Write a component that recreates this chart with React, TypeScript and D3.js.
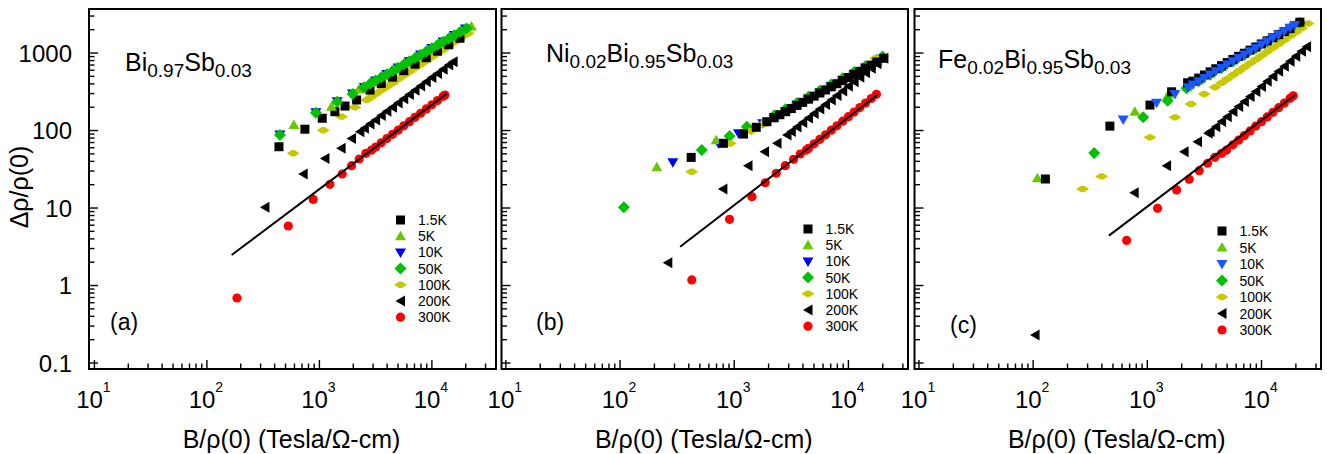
import * as d3 from 'd3';

type Pt = [number, number];

const temps = ['1.5K', '5K', '10K', '50K', '100K', '200K', '300K'];

// ---- (a) Bi0.97Sb0.03 ----
const a_1_5K: Pt[] = [[437, 61.8], [743, 104], [1060, 144], [1373, 175], [1690, 207], [2143, 248], [2818, 333], [3548, 404], [4467, 489], [5623, 593], [7079, 719], [8913, 871], [11220, 1057], [14130, 1279], [17780, 1552]];
const a_5K: Pt[] = [[593, 118], [1282, 203], [2239, 338], [2818, 409], [3548, 497], [4467, 601], [5623, 729], [7079, 885], [8913, 1072], [11220, 1300], [14130, 1574], [17780, 1910], [22500, 2200]];
const a_10K: Pt[] = [[446, 89], [931, 172], [1440, 238], [1970, 300], [2512, 365], [3162, 443], [3981, 536], [5012, 651], [6310, 789], [7943, 955], [10000, 1160], [12590, 1407], [15850, 1703], [19950, 2067]];
const a_50K: Pt[] = [[446, 87.5], [931, 170], [1440, 235], [1970, 296], [2490, 361], [2818, 400], [3162, 441], [3548, 485], [3981, 533], [4467, 588], [5012, 647], [5623, 713], [6310, 785], [7079, 865], [7943, 951], [8913, 1047], [10000, 1153], [11220, 1271], [12590, 1400], [14130, 1538], [15850, 1694], [17780, 1866], [20300, 2080]];
const a_100K: Pt[] = [[585, 50.8], [1082, 101], [1575, 151], [2070, 199], [2630, 248], [2818, 265], [3162, 295], [3548, 330], [3981, 368], [4467, 411], [5012, 458], [5623, 512], [6310, 571], [7079, 638], [7943, 711], [8913, 794], [10000, 887], [11220, 990], [12590, 1104], [14130, 1233], [15850, 1377], [17780, 1538], [19950, 1714], [21000, 1800]];
const a_200K: Pt[] = [[328, 10.2], [718, 27.5], [1120, 43.7], [1560, 59], [1930, 79], [2290, 96.6], [2512, 107], [2818, 121], [3162, 137], [3548, 156], [3981, 177], [4467, 200], [5012, 227], [5623, 257], [6310, 292], [7079, 330], [7943, 375], [8913, 425], [10000, 482], [11220, 546], [12590, 619], [14130, 701], [15450, 773]];
const a_300K: Pt[] = [[185, 0.69], [529, 5.86], [881, 12.9], [1240, 20.2], [1595, 27.5], [1932, 35.2], [2260, 42.9], [2590, 50.8], [2910, 56], [3162, 61.2], [3548, 69.5], [3981, 78.7], [4467, 89.3], [5012, 101], [5623, 115], [6310, 130], [7079, 148], [7943, 167], [8913, 190], [10000, 215], [11220, 244], [12590, 276], [13060, 287]];
const a_fit: Pt[] = [[166, 2.48], [13600, 302]];

// ---- (b) Ni0.02Bi0.95Sb0.03 ----
const b_1_5K: Pt[] = [[420, 45], [805, 68.4], [1208, 90], [1560, 110], [1935, 130], [2239, 146], [2512, 160], [2818, 175], [3162, 192], [3548, 211], [3981, 231], [4467, 254], [5012, 278], [5623, 305], [6310, 334], [7079, 366], [7943, 402], [8913, 441], [10000, 483], [11220, 530], [12590, 581], [14130, 637], [15850, 698], [17780, 766], [20400, 855]];
const b_5K: Pt[] = [[210, 33.5], [695, 75], [1778, 127], [2239, 153], [2818, 184], [3548, 221], [4467, 265], [5623, 319], [7079, 384], [8913, 461], [11220, 555], [14130, 667], [17780, 802], [19050, 847]];
const b_10K: Pt[] = [[290, 38.9], [728, 68.4], [1090, 92], [1413, 103], [1778, 124], [2239, 149], [2818, 179], [3548, 216], [4467, 259], [5623, 312], [7079, 375], [8913, 451], [11220, 542], [14130, 652], [17780, 783]];
const b_50K: Pt[] = [[108, 10.2], [520, 56], [910, 85], [1290, 112], [2239, 156], [2818, 188], [3548, 226], [4467, 272], [5623, 327], [7079, 393], [8913, 472], [11220, 568], [14130, 682], [17780, 820], [19950, 899]];
const b_100K: Pt[] = [[425, 29.4], [922, 68], [1413, 98.6], [1778, 119], [2239, 143], [2818, 171], [3548, 206], [4467, 248], [5623, 298], [7079, 358], [8913, 431], [11220, 518], [14130, 622], [17300, 860]];
const b_200K: Pt[] = [[262, 1.97], [796, 17.6], [1320, 35.2], [1845, 53.2], [2370, 68.4], [2900, 87.5], [3162, 96.9], [3548, 111], [3981, 127], [4467, 145], [5012, 166], [5623, 190], [6310, 217], [7079, 248], [7943, 284], [8913, 324], [10000, 372], [11220, 425], [12590, 486], [14130, 556], [15850, 635], [17780, 728], [20400, 855]];
const b_300K: Pt[] = [[425, 1.18], [910, 7.14], [1430, 14], [1870, 21.2], [2335, 28.1], [2800, 35.2], [3310, 42.5], [3790, 49.8], [4280, 56], [4467, 58.8], [5012, 67.3], [5623, 76.9], [6310, 88.1], [7079, 101], [7943, 115], [8913, 132], [10000, 151], [11220, 173], [12590, 198], [14130, 226], [15850, 259], [17600, 293]];
const b_fit: Pt[] = [[336, 3.17], [17900, 287]];

// ---- (c) Fe0.02Bi0.95Sb0.03 ----
const c_1_5K: Pt[] = [[128, 23.7], [470, 114], [1055, 213], [1633, 316], [2254, 414], [2512, 434], [2818, 475], [3162, 521], [3548, 572], [3981, 627], [4467, 687], [5012, 754], [5623, 827], [6310, 906], [7079, 994], [7943, 1090], [8913, 1195], [10000, 1310], [11220, 1436], [12590, 1575], [14130, 1727], [15850, 1893], [17780, 2076], [21700, 2500]];
const c_5K: Pt[] = [[109, 24.2], [778, 175], [1524, 290], [2239, 363], [2818, 443], [3548, 540], [4467, 658], [5623, 802], [7079, 977], [8913, 1191], [11220, 1455], [14130, 1774], [17780, 2163], [19950, 2388]];
const c_10K: Pt[] = [[615, 139], [1205, 229], [1745, 296], [2280, 361], [2512, 392], [2818, 433], [3162, 478], [3548, 527], [3981, 582], [4467, 643], [5012, 710], [5623, 783], [6310, 865], [7079, 955], [7943, 1054], [8913, 1164], [10000, 1288], [11220, 1422], [12590, 1570], [14130, 1734], [15850, 1914], [17780, 2113], [19600, 2300]];
const c_50K: Pt[] = [[343, 51.3], [920, 148], [1506, 243], [2210, 350], [2818, 431], [3548, 525], [4467, 640], [5623, 778], [7079, 946], [8913, 1153], [11220, 1403], [14130, 1710], [17780, 2080], [21700, 2460]];
const c_100K: Pt[] = [[271, 17.6], [398, 25.6], [1055, 81.7], [1745, 148], [2410, 220], [3150, 296], [3910, 361], [4467, 412], [5012, 463], [5623, 520], [6310, 583], [7079, 656], [7943, 736], [8913, 826], [10000, 927], [11220, 1042], [12590, 1169], [14130, 1312], [15850, 1476], [17780, 1656], [19950, 1858], [22390, 2089], [25600, 2400]];
const c_200K: Pt[] = [[104, 0.23], [767, 15.8], [1475, 35.2], [2100, 53.2], [2750, 71.8], [3410, 92], [3548, 96.8], [3981, 112], [4467, 131], [5012, 151], [5623, 176], [6310, 204], [7079, 237], [7943, 275], [8913, 319], [10000, 371], [11220, 431], [12590, 500], [14130, 581], [15850, 673], [17780, 782], [19950, 908], [22390, 1054], [24800, 1205]];
const c_300K: Pt[] = [[659, 3.82], [1230, 9.9], [1806, 17.1], [2330, 23.5], [2850, 30.3], [3370, 37.8], [3910, 45.1], [4480, 50.8], [4950, 56], [5623, 65.3], [6310, 75], [7079, 86.1], [7943, 98.9], [8913, 114], [10000, 130], [11220, 150], [12590, 172], [14130, 197], [15850, 226], [17780, 260], [18960, 281]];
const c_fit: Pt[] = [[461, 4.4], [19600, 287]];

const xMajor = [10, 100, 1000, 10000];
const yMajor = [0.1, 1, 10, 100, 1000];
const yLabels = ['0.1', '1', '10', '100', '1000'];

const shapes: Record<string, string> = {
  '1.5K': 'square', '5K': 'up', '10K': 'down', '50K': 'diamond',
  '100K': 'flat', '200K': 'left', '300K': 'circle',
};
const colors: Record<string, string> = {
  '1.5K': '#000000', '5K': '#66c800', '10K': '#0000ff', '50K': '#00c000',
  '100K': '#c8c800', '200K': '#000000', '300K': '#ff0000',
};

const FONT = '"Liberation Sans", Arial, Helvetica, sans-serif';

const panels = [
  {
    left: 89, right: 496, xMin: 8.95, xMax: 37150,
    series: { '1.5K': a_1_5K, '5K': a_5K, '10K': a_10K, '50K': a_50K, '100K': a_100K, '200K': a_200K, '300K': a_300K } as Record<string, Pt[]>,
    fit: a_fit,
    order: ['100K', '1.5K', '10K', '5K', '50K', '200K', '300K'],
    title: [['Bi', 0], ['0.97', 1], ['Sb', 0], ['0.03', 1]] as [string, number][],
    titleX: 125, titleY: 71,
    tag: '(a)', tagX: 110, tagY: 330,
    legX: 400.5, legY: 220, legStep: 16.2,
    blue: '#0000ff', yLabels: true,
  },
  {
    left: 501.5, right: 908, xMin: 9.16, xMax: 33270,
    series: { '1.5K': b_1_5K, '5K': b_5K, '10K': b_10K, '50K': b_50K, '100K': b_100K, '200K': b_200K, '300K': b_300K } as Record<string, Pt[]>,
    fit: b_fit,
    order: ['10K', '5K', '50K', '100K', '1.5K', '200K', '300K'],
    title: [['Ni', 0], ['0.02', 1], ['Bi', 0], ['0.95', 1], ['Sb', 0], ['0.03', 1]] as [string, number][],
    titleX: 546, titleY: 62,
    tag: '(b)', tagX: 536, tagY: 330,
    legX: 808, legY: 229, legStep: 16.2,
    blue: '#0000ff', yLabels: false,
  },
  {
    left: 914.5, right: 1321, xMin: 9.14, xMax: 33200,
    series: { '1.5K': c_1_5K, '5K': c_5K, '10K': c_10K, '50K': c_50K, '100K': c_100K, '200K': c_200K, '300K': c_300K } as Record<string, Pt[]>,
    fit: c_fit,
    order: ['100K', '5K', '50K', '1.5K', '10K', '200K', '300K'],
    title: [['Fe', 0], ['0.02', 1], ['Bi', 0], ['0.95', 1], ['Sb', 0], ['0.03', 1]] as [string, number][],
    titleX: 938, titleY: 68,
    tag: '(c)', tagX: 950, tagY: 333,
    legX: 1222, legY: 231, legStep: 16.5,
    blue: '#1a56ff', yLabels: false,
  },
];

const yTop = 9;
const yBottom = 369;
const y = d3.scaleLog().domain([0.0837, 3700]).range([yBottom, yTop]);

function Marker({ shape, cx, cy, color }: { shape: string; cx: number; cy: number; color: string }) {
  const t = `translate(${cx},${cy})`;
  switch (shape) {
    case 'square':
      return <rect x={cx - 4.5} y={cy - 4.5} width={9} height={9} fill={color} />;
    case 'up':
      return <path transform={t} d="M0,-5.5L5.5,4L-5.5,4Z" fill={color} />;
    case 'down':
      return <path transform={t} d="M0,5.5L5.5,-4L-5.5,-4Z" fill={color} />;
    case 'diamond':
      return <path transform={t} d="M0,-6L6,0L0,6L-6,0Z" fill={color} />;
    case 'flat':
      return <path transform={t} d="M-6.5,0L-1.5,-3.2L1.5,-3.2L6.5,0L1.5,3.2L-1.5,3.2Z" fill={color} />;
    case 'left':
      return <path transform={t} d="M-5,0L4.5,-5.5L4.5,5.5Z" fill={color} />;
    default:
      return <circle cx={cx} cy={cy} r={4.6} fill={color} />;
  }
}

function Panel({ p }: { p: (typeof panels)[number] }) {
  const x = d3.scaleLog().domain([p.xMin, p.xMax]).range([p.left, p.right]);
  const xMinor: number[] = [];
  xMajor.forEach((d) => d3.range(2, 10).forEach((m) => { if (d * m <= p.xMax) xMinor.push(d * m); }));
  const yMinor: number[] = [];
  yMajor.forEach((d) => d3.range(2, 10).forEach((m) => { if (d * m <= 3700) yMinor.push(d * m); }));
  const colorOf = (t: string) => (t === '10K' ? p.blue : colors[t]);
  const line = d3.line<Pt>().x((d) => x(d[0])).y((d) => y(d[1]));

  return (
    <g>
      {p.order.map((t) => (
        <g key={t}>
          {p.series[t].map((d, i) => (
            <Marker key={i} shape={shapes[t]} cx={x(d[0])} cy={y(d[1])} color={colorOf(t)} />
          ))}
        </g>
      ))}
      <path d={line(p.fit) ?? ''} stroke="#000" strokeWidth={2} fill="none" />

      {/* frame */}
      <rect x={p.left} y={yTop} width={p.right - p.left} height={yBottom - yTop} fill="none" stroke="#000" strokeWidth={2} />

      {/* x ticks */}
      {xMajor.map((d) => (
        <line key={'xM' + d} x1={x(d)} x2={x(d)} y1={yBottom} y2={yBottom - 9} stroke="#000" strokeWidth={1.4} />
      ))}
      {xMinor.map((d) => (
        <line key={'xm' + d} x1={x(d)} x2={x(d)} y1={yBottom} y2={yBottom - 5.5} stroke="#000" strokeWidth={1.4} />
      ))}
      {/* y ticks */}
      {yMajor.map((d) => (
        <line key={'yM' + d} x1={p.left} x2={p.left + 9} y1={y(d)} y2={y(d)} stroke="#000" strokeWidth={1.4} />
      ))}
      {yMinor.map((d) => (
        <line key={'ym' + d} x1={p.left} x2={p.left + 5.5} y1={y(d)} y2={y(d)} stroke="#000" strokeWidth={1.4} />
      ))}

      {xMajor.map((d) => (
        <text key={'xl' + d} x={x(d) - 1} y={408} textAnchor="middle" fontSize={24} fontFamily={FONT}>
          10<tspan fontSize={14} dy={-16}>{Math.round(Math.log10(d))}</tspan>
        </text>
      ))}
      {p.yLabels &&
        yMajor.map((d, i) => (
          <text key={'yl' + d} x={p.left - 17} y={y(d) + 8.5} textAnchor="end" fontSize={24} fontFamily={FONT}>
            {yLabels[i]}
          </text>
        ))}

      <text x={(p.left + p.right) / 2 - 1} y={448} textAnchor="middle" fontSize={25} fontFamily={FONT}>
        B/ρ(0) (Tesla/Ω-cm)
      </text>

      <text x={p.titleX} y={p.titleY} fontSize={25} fontFamily={FONT}>
        {p.title.map(([s, sub], i) => (
          <tspan key={i} fontSize={sub ? 19 : 25} dy={i === 0 ? 0 : sub ? 6 : -6}>{s}</tspan>
        ))}
      </text>
      <text x={p.tagX} y={p.tagY} fontSize={23} fontFamily={FONT}>{p.tag}</text>

      {temps.map((t, i) => (
        <g key={'lg' + t}>
          <Marker shape={shapes[t]} cx={p.legX} cy={p.legY + i * p.legStep} color={colorOf(t)} />
          <text x={p.legX + 17.5} y={p.legY + i * p.legStep + 5} fontSize={14} fontFamily={FONT}>{t}</text>
        </g>
      ))}
    </g>
  );
}

export default function App() {
  return (
    <svg width={1327} height={454} style={{ position: 'absolute', left: 0, top: 0, background: '#fff' }}>
      <rect width={1327} height={454} fill="#fff" />
      {panels.map((p, i) => <Panel key={i} p={p} />)}
      <text transform="translate(28,187) rotate(-90)" textAnchor="middle" fontSize={25} fontFamily={FONT}>
        Δρ/ρ(0)
      </text>
    </svg>
  );
}
